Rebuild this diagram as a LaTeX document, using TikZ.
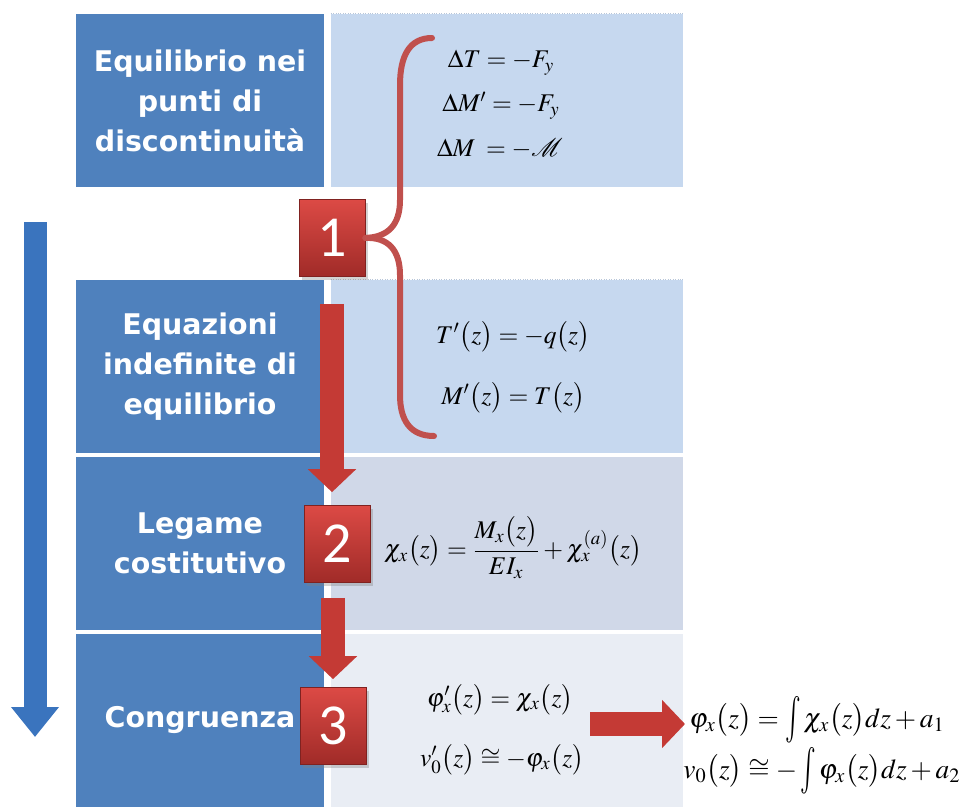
\documentclass[tikz,border=0pt]{standalone}
\usepackage{amsmath}
\usepackage{mathptmx}
\usepackage[no-math]{fontspec}
\newfontfamily\boxfont{DejaVu Sans}
\newfontfamily\numfont{Carlito}
\usetikzlibrary{arrows.meta, positioning, shadows}
\definecolor{darkblue}{HTML}{4F81BD}
\definecolor{lightblue}{HTML}{C6D8EF}
\definecolor{midblue}{HTML}{D0D8E8}
\definecolor{paleblue}{HTML}{E9EDF4}
\definecolor{bracered}{HTML}{C0504D}
\definecolor{arrowred}{HTML}{C43A35}
\definecolor{redtop}{HTML}{DC4A45}
\definecolor{redbot}{HTML}{A02B28}
\definecolor{flowblue}{HTML}{3A74BE}
\newcommand{\tallint}{\mathop{\vcenter{\hbox{\scalebox{0.95}[1.7]{$\int$}}}}\nolimits}
\tikzstyle{redarrow} = [line width=4.8mm, draw=arrowred, -{Triangle[length=4.6mm, width=9.4mm]}]
\tikzstyle{flowarrow} = [line width=4.6mm, draw=flowblue, -{Triangle[length=6mm, width=9.2mm]}]

\begin{document}
\begin{tikzpicture}[
        x=0.2mm, y=-0.2mm,
        darkbox/.style={fill=darkblue, minimum width=49.6mm, minimum height=34.6mm, text=white, align=center,
            font=\boxfont\bfseries\fontsize{16.2}{22.8}\selectfont},
        lightbox/.style={minimum width=70.4mm, minimum height=34.6mm},
        numbox/.style={draw=redbot!80!black, top color=redtop, bottom color=redbot, minimum width=13.2mm,
            minimum height=15.4mm, inner sep=0pt, text=white, font=\numfont\fontsize{33}{33}\selectfont,
            drop shadow={opacity=0.35, shadow xshift=0.5mm, shadow yshift=-0.6mm}},
        formula/.style={font=\fontsize{14.5}{18}\selectfont, inner sep=0pt},
        bigformula/.style={font=\fontsize{15.6}{18}\selectfont, inner sep=0pt},
        brace/.style={draw=bracered, line width=1.2mm, line cap=round},
    ]
        \useasboundingbox (0,0) rectangle (961,808);

        % blocchi
        \node[darkbox] (discont) at (200,100.5) {Equilibrio nei\\punti di\\discontinuità};
        \node[lightbox, fill=lightblue] (discontR) at (507,100.5) {};
        \node[darkbox] (indef) at (200,366.5) {Equazioni\\indefinite di\\equilibrio};
        \node[lightbox, fill=lightblue] (indefR) at (507,366.5) {};
        \node[darkbox] (legame) at (200,543.5) {Legame\\costitutivo};
        \node[lightbox, fill=midblue] (legameR) at (507,543.5) {};
        \node[darkbox] (congr) at (200,720) {Congruenza};
        \node[lightbox, fill=paleblue] (congrR) at (507,720) {};
        \draw[densely dotted, draw=lightblue!80!gray] (discontR.north west) -- (discontR.north east);
        \draw[densely dotted, draw=lightblue!80!gray] (indefR.north west) -- (indefR.north east);

        % equazioni
        \node[formula, anchor=base] (jumpT) at (501,68) {$\Delta T = -F_y$};
        \node[formula, anchor=base] (jumpMp) at (501,112) {$\Delta M' = -F_y$};
        \node[formula, anchor=base] (jumpM) at (500,156) {$\Delta M\; = -\mathcal{M}$};
        \node[formula, anchor=base] (eqT) at (513,343) {$T'\bigl(z\bigr) = -q\bigl(z\bigr)$};
        \node[formula, anchor=base] (eqM) at (513,404) {$M'\bigl(z\bigr) = T\bigl(z\bigr)$};
        \node[formula] (curv) at (513,548) {$\chi_x\bigl(z\bigr) = \dfrac{M_x\bigl(z\bigr)}{EI_x} + \chi_x^{(a)}\bigl(z\bigr)$};
        \node[formula, anchor=base] (rot) at (500,706) {$\varphi'_x\bigl(z\bigr) = \chi_x\bigl(z\bigr)$};
        \node[formula, anchor=base] (displ) at (502,766) {$v'_0\bigl(z\bigr) \cong -\varphi_x\bigl(z\bigr)$};
        \node[bigformula, anchor=base west] (rotint) at (689,727) {$\varphi_x\bigl(z\bigr) = \tallint \chi_x\bigl(z\bigr)dz + a_1$};
        \node[bigformula, anchor=base west] (displint) at (683,778) {$v_0\bigl(z\bigr) \cong -\tallint \varphi_x\bigl(z\bigr)dz + a_2$};

        % frecce
        \coordinate (flowtop) at (35,222);
        \coordinate (flowend) at (35,737);
        \draw[flowarrow] (flowtop) -- (flowend);

        \node[numbox] (step1) at (332,238) {1};
        \node[numbox] (step2) at (337,544) {2};
        \node[numbox] (step3) at (333,726) {3};

        \draw[brace] (step1.east) .. controls (388,237) and (400,225) .. (400,200) -- (400,85)
            .. controls (400,55) and (410,38) .. (432,38);
        \draw[brace] (step1.east) .. controls (388,237) and (400,250) .. (400,275) -- (400,395)
            .. controls (400,420) and (410,436) .. (434,436);

        \draw[redarrow] ([yshift=-5.4mm]step1.south) -- ([yshift=2.6mm]step1.south |- step2.north);
        \draw[redarrow] ([yshift=-3mm]step2.south -| step3.north) -- ([yshift=1.6mm]step3.north);
        \coordinate (arrstart) at (590,724);
        \coordinate (arrend) at (685,724);
        \draw[redarrow] (arrstart) -- (arrend);
    \end{tikzpicture}
\end{document}
